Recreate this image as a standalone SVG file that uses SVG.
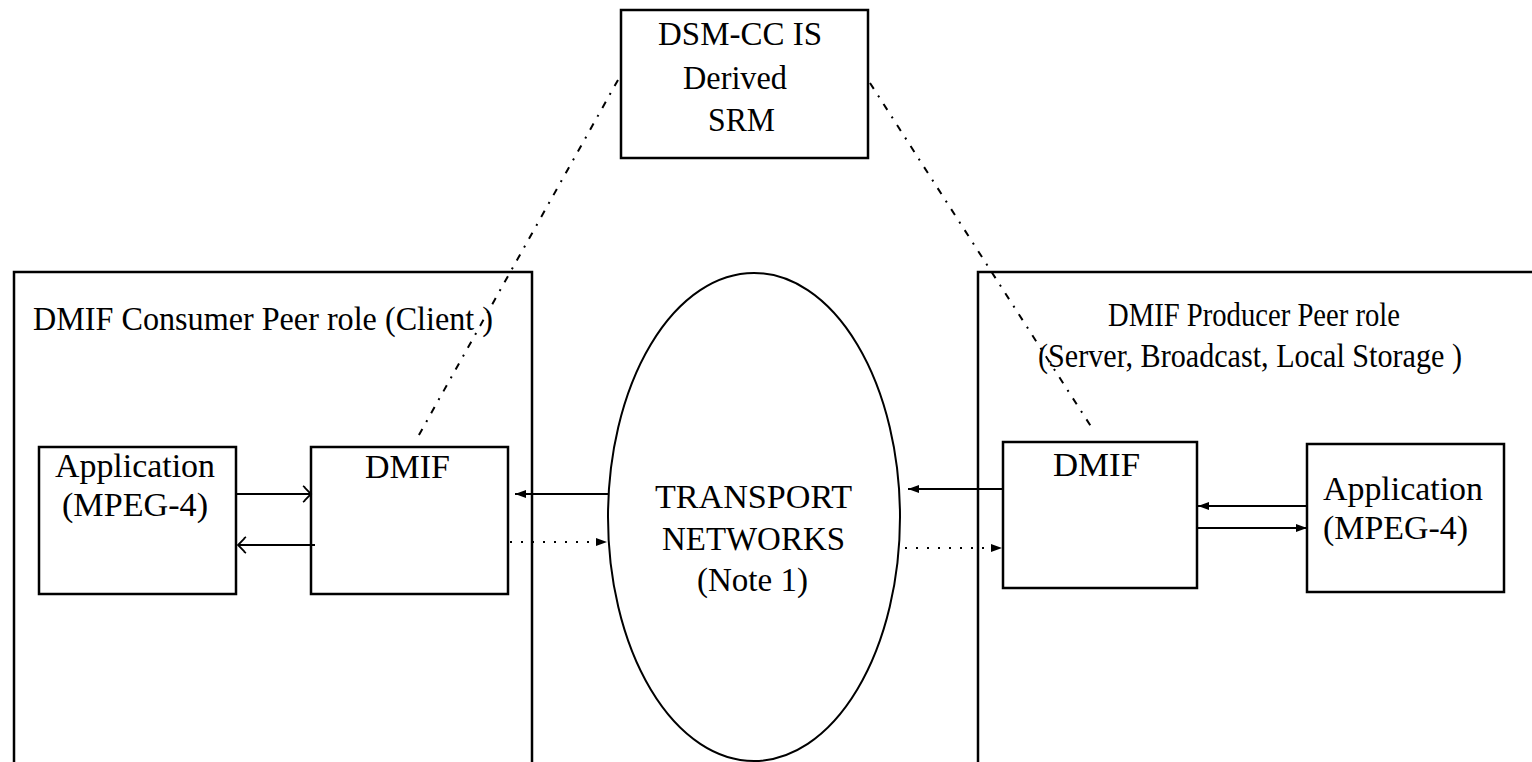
<svg xmlns="http://www.w3.org/2000/svg" width="1532" height="762" viewBox="0 0 1532 762">
<style>
.box{fill:#fff;stroke:#000;stroke-width:2.5}
.ell{fill:none;stroke:#000;stroke-width:2}
.t{font-family:"Liberation Serif","Times New Roman",serif;font-size:33px;fill:#000}
.ln{stroke:#000;stroke-width:2;fill:none}
.dot{stroke:#000;stroke-width:2;fill:none;stroke-dasharray:2 9}
.dd{stroke:#000;stroke-width:2;fill:none;stroke-dasharray:7 8 2 8}
</style>
<defs>
<marker id="fa" markerUnits="userSpaceOnUse" markerWidth="12" markerHeight="10" refX="11" refY="5" orient="auto">
<path d="M0,1 L11,5 L0,9 z" fill="#000"/>
</marker>
<marker id="oa" markerUnits="userSpaceOnUse" markerWidth="12" markerHeight="20" refX="10" refY="9" orient="auto">
<path d="M2,1 Q4,2 4,3 L10,9 L4,15 Q4,16 2,17" fill="none" stroke="#000" stroke-width="1.8"/>
</marker>
</defs>
<rect width="1532" height="762" fill="#fff"/>

<g id="consumer">
<rect class="box" x="14" y="272" width="518" height="520"/>
<text class="t" x="33" y="330" textLength="460" lengthAdjust="spacingAndGlyphs">DMIF Consumer Peer role (Client )</text>
</g>
<g id="producer">
<rect class="box" x="978" y="272" width="600" height="520"/>
<text class="t" x="1108" y="326" textLength="292" lengthAdjust="spacingAndGlyphs">DMIF Producer Peer role</text>
<text class="t" x="1038" y="367" textLength="424" lengthAdjust="spacingAndGlyphs">(Server, Broadcast, Local Storage )</text>
</g>
<g id="dsmcc">
<rect class="box" x="621" y="10" width="247" height="148"/>
<text class="t" x="658" y="45" textLength="164" lengthAdjust="spacingAndGlyphs">DSM-CC IS</text>
<text class="t" x="683" y="89" textLength="104" lengthAdjust="spacingAndGlyphs">Derived</text>
<text class="t" x="708" y="131" textLength="67" lengthAdjust="spacingAndGlyphs">SRM</text>
</g>
<g id="transport">
<ellipse class="ell" cx="754" cy="517" rx="146" ry="244"/>
<text class="t" x="655" y="508" textLength="197" lengthAdjust="spacingAndGlyphs">TRANSPORT</text>
<text class="t" x="662" y="550" textLength="183" lengthAdjust="spacingAndGlyphs">NETWORKS</text>
<text class="t" x="697" y="591" textLength="111" lengthAdjust="spacingAndGlyphs">(Note 1)</text>
</g>
<g id="app-client">
<rect class="box" x="39" y="447" width="197" height="147"/>
<text class="t" x="55" y="477" textLength="160" lengthAdjust="spacingAndGlyphs">Application</text>
<text class="t" x="62" y="516" textLength="146" lengthAdjust="spacingAndGlyphs">(MPEG-4)</text>
</g>
<g id="dmif-client">
<rect class="box" x="311" y="447" width="197" height="147"/>
<text class="t" x="365" y="478" textLength="85" lengthAdjust="spacingAndGlyphs">DMIF</text>
</g>
<g id="dmif-producer">
<rect class="box" x="1003" y="442" width="194" height="146"/>
<text class="t" x="1053" y="476" textLength="87" lengthAdjust="spacingAndGlyphs">DMIF</text>
</g>
<g id="app-producer">
<rect class="box" x="1307" y="444" width="197" height="148"/>
<text class="t" x="1323" y="500" textLength="160" lengthAdjust="spacingAndGlyphs">Application</text>
<text class="t" x="1323" y="539" textLength="145" lengthAdjust="spacingAndGlyphs">(MPEG-4)</text>
</g>

<g id="connectors">
<line class="dd" x1="618" y1="80" x2="415" y2="442"/>
<line class="dd" x1="870" y1="83" x2="1092" y2="428"/>
<line class="ln" x1="236" y1="494" x2="311" y2="494" marker-end="url(#oa)"/>
<line class="ln" x1="315" y1="545" x2="238" y2="545" marker-end="url(#oa)"/>
<line class="ln" x1="608" y1="494" x2="515" y2="494" marker-end="url(#fa)"/>
<line class="dot" x1="510" y1="542" x2="607" y2="542" marker-end="url(#fa)"/>
<line class="ln" x1="1003" y1="489" x2="908" y2="489" marker-end="url(#fa)"/>
<line class="dot" x1="905" y1="548" x2="1002" y2="548" marker-end="url(#fa)"/>
<line class="ln" x1="1307" y1="506" x2="1198" y2="506" marker-end="url(#fa)"/>
<line class="ln" x1="1197" y1="528" x2="1307" y2="528" marker-end="url(#fa)"/>
</g>
</svg>
